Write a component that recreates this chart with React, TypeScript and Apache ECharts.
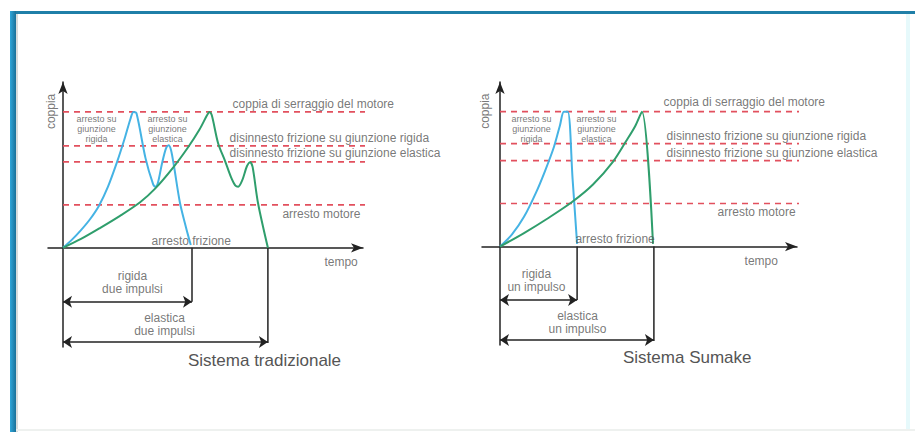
import React, { useEffect, useRef } from "react";
import * as echarts from "echarts";

const FONT = "'Liberation Sans', Arial, Helvetica, sans-serif";
const BLUE = "#45b3e4";
const GREEN = "#2f9e6c";
const RED = "#e2505e";
const AXIS = "#222222";
const TEXT = "#555555";

// ---- data: Sistema tradizionale (left) ----
const tradTitle = "Sistema tradizionale";
const tradRigid: [number, number][] = [
  [0, 0], [3, 6], [6, 13], [9, 21], [12, 31], [15, 45], [18, 63], [20.5, 80],
  [22.5, 95], [23.5, 100], [24.5, 99], [27.5, 66], [30, 47], [30.8, 45], [31.6, 47.5],
  [33, 62], [34.3, 73], [35.2, 75.5], [36, 72], [37, 60], [39, 33], [41, 15], [42.6, 2],
];
const tradElastic: [number, number][] = [
  [0, 0], [6, 6.5], [12.3, 14.5], [19, 23.5], [25.7, 33.5], [30.7, 43.5], [36.7, 59],
  [41.7, 74], [45.5, 87], [48, 97.5], [48.8, 100], [49.6, 97.5], [51.7, 77], [54, 64],
  [56, 52], [57.4, 46], [58.4, 45], [59.8, 50], [61.3, 60], [62.4, 63], [63.2, 59.5],
  [65, 33], [68.3, 0],
];
const tradLevels = [100, 75, 63.2, 31.6];
const tradStopRigid = 43;
const tradStopElastic = 68.3;
const tradSpans = ["rigida\ndue impulsi", "elastica\ndue impulsi"];

// ---- data: Sistema Sumake (right) ----
const sumTitle = "Sistema Sumake";
const sumRigid: [number, number][] = [
  [0, 0], [4, 9], [8, 22], [12, 40], [15, 56], [18, 74], [20, 90],
  [21.3, 100], [22.6, 100], [24.2, 50], [25.7, 2],
];
const sumElastic: [number, number][] = [
  [0, 0], [8, 10], [16, 21], [24, 33], [31, 46], [37.7, 63], [42, 78],
  [45, 89], [47.3, 100], [51, 2],
];
const sumLevels = [100, 76.3, 63.7, 31.9];
const sumStopRigid = 25.7;
const sumStopElastic = 51.3;
const sumSpans = ["rigida\nun impulso", "elastica\nun impulso"];

// ---- shared texts ----
const levelNames = [
  "coppia di serraggio del motore",
  "disinnesto frizione su giunzione rigida",
  "disinnesto frizione su giunzione elastica",
  "arresto motore",
];
const stopName = "arresto frizione";
const xName = "tempo";
const yName = "coppia";
const jointNames = ["arresto su\ngiunzione\nrigida", "arresto su\ngiunzione\nelastica"];

// ---- layout (data-space anchors for texts) ----
const LEVEL_END = 120;
const ARROW_Y = [-39.7, -69.3];
const DROP_Y = [-39.7, -70];
const layouts = [
  {
    levelLabel: [[56.7, 105.1], [55.7, 80.1], [55.7, 69.1], [73.3, 24.3]],
    stop: [29.7, 4.4], tempo: [87.3, -11], coppia: [-3.8, 100],
    joints: [[11.3, 86.8], [35, 86.8]], spans: [[23.3, -25.7], [34, -57]],
  },
  {
    levelLabel: [[54.7, 106.7], [55.7, 81.5], [55.7, 68.9], [72.7, 25.2]],
    stop: [25.3, 5.2], tempo: [81.7, -11.1], coppia: [-5, 100],
    joints: [[10.7, 86.7], [32.3, 86.7]], spans: [[12.3, -25.2], [26, -57]],
  },
];

function panelSeries(
  idx: number,
  rigid: [number, number][],
  elastic: [number, number][],
  levels: number[],
  stopR: number,
  stopE: number,
  spans: string[]
) {
  const L = layouts[idx];
  const base = { xAxisIndex: idx, yAxisIndex: idx, silent: true };
  const series: any[] = [];
  levels.forEach((lv) => {
    series.push({
      ...base, type: "line", symbol: "none", clip: false, z: 1,
      data: [[0, lv], [LEVEL_END, lv]],
      lineStyle: { color: RED, width: 1.6, type: [6, 5] },
    });
  });
  series.push({
    ...base, type: "line", symbol: "none", smooth: 0.3, z: 3,
    data: rigid, lineStyle: { color: BLUE, width: 2 },
  });
  series.push({
    ...base, type: "line", symbol: "none", smooth: 0.3, z: 3,
    data: elastic, lineStyle: { color: GREEN, width: 2 },
  });
  series.push({
    ...base, type: "line", symbol: "none", z: 2,
    data: [[stopR, 0], [stopR, DROP_Y[0]]],
    lineStyle: { color: AXIS, width: 1.5 },
    markLine: {
      silent: true, symbol: ["arrow", "arrow"], symbolSize: 9,
      lineStyle: { color: AXIS, width: 1.5, type: "solid" },
      label: { show: false },
      data: [
        [{ coord: [0, ARROW_Y[0]] }, { coord: [stopR, ARROW_Y[0]] }],
        [{ coord: [0, ARROW_Y[1]] }, { coord: [stopE, ARROW_Y[1]] }],
      ],
    },
  });
  series.push({
    ...base, type: "line", symbol: "none", z: 2,
    data: [[stopE, 0], [stopE, DROP_Y[1]]],
    lineStyle: { color: AXIS, width: 1.5 },
  });

  const lab = (pos: number[], text: string, opts: any) => ({
    value: pos, name: text,
    label: {
      show: true, formatter: "{b}", position: [0, 0], color: TEXT,
      fontFamily: FONT, ...opts,
    },
  });
  const labels: any[] = [];
  levelNames.forEach((n, i) =>
    labels.push(lab(L.levelLabel[i], n, { fontSize: 12, align: "left", verticalAlign: "middle" }))
  );
  labels.push(lab(L.stop, stopName, { fontSize: 12, align: "left", verticalAlign: "middle" }));
  labels.push(lab(L.tempo, xName, { fontSize: 12, align: "left", verticalAlign: "middle" }));
  labels.push(lab(L.coppia, yName, { fontSize: 12, align: "center", verticalAlign: "middle", rotate: 90 }));
  jointNames.forEach((n, i) =>
    labels.push(lab(L.joints[i], n, { fontSize: 9, lineHeight: 10, align: "center", verticalAlign: "middle" }))
  );
  spans.forEach((n, i) =>
    labels.push(lab(L.spans[i], n, { fontSize: 12, lineHeight: 13, align: "center", verticalAlign: "middle" }))
  );
  series.push({
    ...base, type: "scatter", clip: false, symbol: "circle", symbolSize: 1, z: 5,
    itemStyle: { color: "rgba(0,0,0,0)" },
    data: labels,
  });
  return series;
}

const axisCommon = {
  type: "value",
  axisTick: { show: false },
  axisLabel: { show: false },
  splitLine: { show: false },
};

export default function App() {
  const ref = useRef<HTMLDivElement>(null);
  useEffect(() => {
    if (!ref.current) return;
    const chart = echarts.init(ref.current, undefined, { renderer: "svg" });
    const lineAxis = {
      show: true, onZero: true, symbol: ["none", "arrow"], symbolSize: [7, 12],
      lineStyle: { color: AXIS, width: 1.5 },
    };
    chart.setOption({
      animation: false,
      backgroundColor: "#ffffff",
      title: [
        {
          text: tradTitle, left: 188, top: 352, padding: 0,
          textStyle: { fontFamily: FONT, fontSize: 17, fontWeight: "normal", color: TEXT },
        },
        {
          text: sumTitle, left: 623, top: 349, padding: 0,
          textStyle: { fontFamily: FONT, fontSize: 17, fontWeight: "normal", color: TEXT },
        },
      ],
      grid: [
        { left: 48, top: 82, width: 315, height: 265 },
        { left: 482, top: 82, width: 315, height: 263 },
      ],
      xAxis: [
        { ...axisCommon, gridIndex: 0, min: -5, max: 100, axisLine: lineAxis },
        { ...axisCommon, gridIndex: 1, min: -6, max: 99, axisLine: lineAxis },
      ],
      yAxis: [
        { ...axisCommon, gridIndex: 0, min: -73, max: 122, axisLine: lineAxis },
        { ...axisCommon, gridIndex: 1, min: -73, max: 122, axisLine: lineAxis },
      ],
      graphic: [
        { type: "rect", silent: true, z: 10, shape: { x: 10, y: 11, width: 905, height: 3 }, style: { fill: "#1f7fa8" } },
        {
          type: "rect", silent: true, z: 10, shape: { x: 10, y: 11, width: 6, height: 421 },
          style: {
            fill: new echarts.graphic.LinearGradient(0, 0, 1, 0, [
              { offset: 0, color: "#2ea6da" },
              { offset: 1, color: "#1a7098" },
            ]),
          },
        },
        { type: "rect", silent: true, z: 9, shape: { x: 16, y: 14, width: 2, height: 418 }, style: { fill: "#d8dcdc" } },
        { type: "rect", silent: true, z: 9, shape: { x: 906, y: 14, width: 4, height: 416 }, style: { fill: "#e6f9fb" } },
        { type: "rect", silent: true, z: 9, shape: { x: 16, y: 429, width: 899, height: 2 }, style: { fill: "#eef1ef" } },
      ],
      series: [
        ...panelSeries(0, tradRigid, tradElastic, tradLevels, tradStopRigid, tradStopElastic, tradSpans),
        ...panelSeries(1, sumRigid, sumElastic, sumLevels, sumStopRigid, sumStopElastic, sumSpans),
      ],
    });
    return () => chart.dispose();
  }, []);
  return (
    <div
      ref={ref}
      style={{ position: "fixed", left: 0, top: 0, width: 915, height: 432, background: "#fff" }}
    />
  );
}
